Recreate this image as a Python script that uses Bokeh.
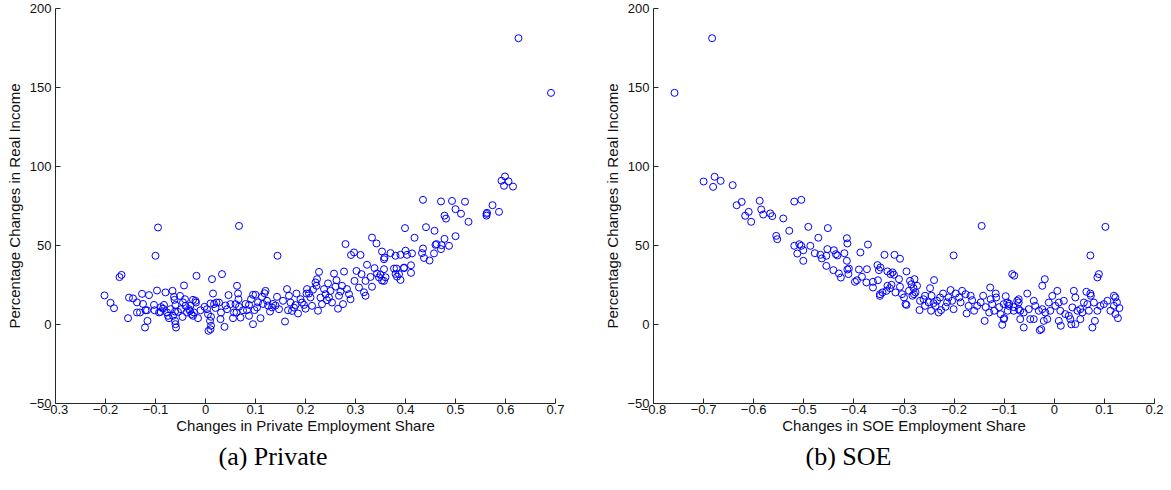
from bokeh.plotting import figure
from bokeh.layouts import row
from bokeh.models import Range1d, FixedTicker, Title
from bokeh.embed import file_html
from bokeh.resources import INLINE

# ---------------- data ----------------
private_x = [
    -0.202, -0.190, -0.183, -0.172, -0.168, -0.155, -0.153, -0.145, -0.137, -0.137,
    -0.131, -0.127, -0.125, -0.120, -0.121, -0.116, -0.113, -0.117, -0.103, -0.100,
    -0.095, -0.097, -0.102, -0.093, -0.089, -0.083, -0.080, -0.077, -0.075, -0.073,
    -0.070, -0.066, -0.063, -0.062, -0.060, -0.061, -0.061, -0.060, -0.059, -0.065,
    -0.051, -0.049, -0.046, -0.043, -0.041, -0.040, -0.037, -0.033, -0.031, -0.028,
    -0.025, -0.023, -0.025, -0.020, -0.018, -0.015, -0.019, -0.002, 0.003, 0.005,
    0.006, 0.010, 0.011, 0.009, 0.011, 0.010, 0.013, 0.015, 0.017, 0.022,
    0.027, 0.030, 0.031, 0.033, 0.038, 0.043, 0.046, 0.050, 0.055, 0.057,
    0.060, 0.063, 0.065, 0.066, 0.067, 0.067, 0.070, 0.062, 0.083, 0.087,
    0.087, 0.091, 0.095, 0.100, 0.095, 0.098, 0.103, 0.110, 0.113, 0.118,
    0.120, 0.123, 0.129, 0.133, 0.143, 0.144, 0.147,
    -0.085, -0.090, 0.080, 0.105, 0.115, 0.125, 0.135, 0.140, -0.030, -0.010,
    -0.045, -0.055, 0.020, 0.040, 0.075,
    0.159, 0.163, 0.167, 0.170, 0.173, 0.177, 0.180, 0.182, 0.190, 0.193,
    0.197, 0.202, 0.203, 0.207, 0.210, 0.213, 0.220, 0.223, 0.227, 0.222,
    0.225, 0.233, 0.237, 0.240, 0.243, 0.247, 0.250, 0.253, 0.257, 0.262,
    0.267, 0.270, 0.273, 0.280, 0.277, 0.275, 0.283, 0.287, 0.290, 0.291,
    0.297, 0.298, 0.302, 0.307, 0.310, 0.312, 0.317, 0.320, 0.320, 0.323,
    0.330, 0.333, 0.342, 0.333, 0.338, 0.343, 0.347, 0.350, 0.357, 0.358,
    0.155, 0.165, 0.185, 0.200, 0.215, 0.230, 0.260, 0.245, 0.265,
    0.626, 0.691, 0.599, 0.592, 0.606, 0.597, 0.615, 0.435, 0.471, 0.493,
    0.519, 0.500, 0.511, 0.478, 0.481, 0.526, 0.574, 0.562, 0.563, 0.562,
    0.587, 0.399, 0.441, 0.458, 0.418, 0.500, 0.478, 0.462, 0.460, 0.472,
    0.471, 0.487, 0.435, 0.433, 0.457, 0.448, 0.437, 0.353, 0.370, 0.380,
    0.390, 0.400, 0.403, 0.413, 0.357, 0.357, 0.377, 0.382, 0.397, 0.411,
    0.411, 0.380, 0.383, 0.390, 0.360, 0.353, 0.387, 0.397,
]
private_y = [
    18.4, 13.7, 10.3, 30.0, 31.4, 4.0, 17.0, 16.5, 14.0, 7.6,
    7.6, 19.4, 13.0, 9.0, -1.9, 2.3, 18.6, 9.0, 12.4, 43.5,
    61.4, 21.5, 9.0, 7.6, 11.0, 12.4, 20.3, 7.6, 5.5, 4.0,
    9.7, 21.3, 17.5, 15.6, 12.4, 8.2, 2.3, 0.2, -1.9, 5.5,
    18.1, 9.7, 4.8, 24.7, 16.0, 11.8, 7.6, 9.7, 8.6, 6.5,
    5.5, 7.6, 15.6, 15.0, 30.8, 4.0, 13.9, 11.2, 9.7, 6.5,
    -4.0, -3.0, -0.8, 2.3, 4.9, 13.3, 28.7, 19.6, 12.9, 13.9,
    13.9, 3.4, 7.6, 31.9, -1.5, 9.7, 18.6, 12.9, 4.0, 7.6,
    12.9, 24.5, 19.6, 16.0, 11.2, 62.4, 4.4, 7.6, 9.1, 12.4,
    5.5, 16.0, 18.8, 18.8, 0.2, 9.1, 10.8, 4.0, 17.5, 19.8,
    21.3, 15.0, 8.2, 10.8, 17.5, 43.5, 9.7,
    10.0, 8.0, 13.0, 14.0, 13.0, 12.0, 13.0, 12.0, 12.0, 9.0,
    14.0, 8.0, 10.5, 12.0, 9.0,
    1.9, 22.4, 18.2, 13.9, 8.6, 10.7, 12.3, 19.6, 16.0, 13.9,
    12.4, 19.6, 22.4, 19.6, 17.1, 11.8, 26.6, 28.7, 33.3, 24.5,
    8.7, 12.9, 22.4, 19.2, 15.4, 17.1, 21.3, 13.9, 32.2, 28.0,
    18.2, 20.9, 24.5, 50.9, 33.5, 12.9, 22.4, 19.2, 16.0, 44.0,
    45.6, 27.6, 33.9, 23.4, 44.0, 31.9, 20.4, 18.2, 27.6, 37.8,
    30.1, 55.0, 51.3, 23.9, 35.7, 32.3, 29.8, 31.5, 27.6, 42.4,
    15.0, 9.0, 7.0, 10.0, 22.0, 17.0, 24.0, 26.0, 10.0,
    181.2, 146.6, 93.7, 91.0, 90.6, 87.8, 87.3, 78.9, 77.9, 78.2,
    77.7, 73.0, 70.1, 68.9, 67.0, 65.0, 75.5, 70.0, 70.7, 68.9,
    71.3, 61.0, 61.6, 59.3, 54.9, 55.9, 54.2, 50.9, 50.4, 50.2,
    47.7, 49.8, 48.1, 45.2, 45.0, 40.5, 42.1, 46.2, 45.2, 43.5,
    44.1, 46.7, 44.1, 45.0, 41.3, 35.0, 35.4, 35.4, 36.0, 37.5,
    32.7, 32.0, 30.3, 28.2, 29.9, 27.8, 31.9, 35.7,
]

soe_x = [
    -0.758, -0.683, -0.700, -0.681, -0.678, -0.666, -0.642, -0.634, -0.624, -0.617,
    -0.610, -0.605, -0.588, -0.585, -0.581, -0.567, -0.563, -0.555, -0.553, -0.541,
    -0.529, -0.519, -0.505, -0.519, -0.513, -0.509, -0.505, -0.501, -0.501, -0.491,
    -0.487, -0.478, -0.471, -0.467, -0.464, -0.455, -0.455, -0.453, -0.452, -0.441,
    -0.440, -0.436, -0.433, -0.430, -0.426, -0.419, -0.414, -0.413, -0.414, -0.413,
    -0.411, -0.410, -0.398, -0.394, -0.390, -0.387, -0.384, -0.374, -0.375, -0.372,
    -0.362, -0.362, -0.353, -0.350, -0.352, -0.348, -0.348,
    -0.339, -0.319, -0.308, -0.347, -0.333, -0.327, -0.323, -0.320, -0.333, -0.328,
    -0.325, -0.335, -0.343, -0.310, -0.308, -0.295, -0.317, -0.304, -0.300, -0.297,
    -0.295, -0.288, -0.285, -0.281, -0.279, -0.280, -0.277, -0.274, -0.290, -0.283,
    -0.269, -0.261, -0.258, -0.248, -0.245, -0.240, -0.241, -0.201,
    -0.237, -0.234, -0.228, -0.226, -0.222, -0.211, -0.207, -0.204, -0.201, -0.197,
    -0.190, -0.187, -0.184, -0.177, -0.175, -0.167, -0.164, -0.171, -0.128, -0.117,
    -0.116, -0.139, -0.104, -0.097, -0.084, -0.080, -0.090, -0.081, -0.074, -0.071,
    -0.160, -0.154, -0.147, -0.137, -0.130, -0.124, -0.120, -0.110, -0.107, -0.100,
    -0.093, -0.142, -0.127,
    -0.268, -0.258, -0.251, -0.246, -0.231, -0.217, -0.214,
    0.072, 0.086, 0.089, -0.024, -0.019, -0.054, 0.006, 0.039, 0.064, 0.072,
    0.073, 0.119, 0.122, 0.125, 0.130, -0.061, -0.029, -0.026, 0.013, 0.076,
    0.081, 0.034, 0.127,
    -0.101, -0.094, -0.091, -0.081, -0.071, -0.071, -0.068, -0.061, -0.051, -0.048,
    -0.041, -0.038, -0.031, -0.024, -0.018, -0.014, -0.011, -0.008, -0.004, 0.002,
    0.009, 0.012, 0.019, 0.022, 0.029, 0.032, 0.036, 0.042, 0.046, 0.052,
    0.056, 0.059, 0.066, 0.069, 0.079, 0.086, 0.092, 0.099, 0.106, 0.112,
    0.119, 0.122, -0.068, -0.041, -0.021, 0.009, -0.101, 0.052, 0.042,
    -0.145, 0.102,
]
soe_y = [
    146.6, 181.2, 90.5, 87.1, 93.5, 90.9, 88.2, 75.5, 77.6, 68.8,
    71.3, 65.0, 78.3, 72.8, 69.6, 70.3, 68.6, 56.1, 54.0, 67.1,
    59.3, 77.8, 78.9, 49.8, 44.9, 50.8, 49.8, 47.0, 40.3, 61.8,
    49.8, 45.1, 54.9, 44.1, 41.8, 43.5, 37.1, 47.7, 61.0, 34.4,
    47.0, 44.5, 43.7, 32.3, 29.7, 45.1, 54.6, 51.3, 40.3, 34.8,
    31.9, 35.4, 27.0, 28.0, 34.8, 45.6, 30.2, 35.0, 26.6, 50.6,
    27.0, 23.4, 37.6, 34.4, 28.0, 19.2, 18.1,
    44.1, 44.1, 41.6, 36.1, 33.6, 31.9, 33.0, 31.5, 24.5, 23.0,
    25.1, 21.3, 20.3, 28.7, 23.9, 33.6, 20.3, 19.2, 17.1, 12.9,
    12.4, 27.6, 25.5, 23.0, 28.7, 19.2, 20.3, 24.5, 21.3, 18.2,
    9.1, 16.0, 18.2, 23.0, 18.2, 28.1, 13.5, 43.7,
    11.8, 15.0, 17.1, 9.1, 19.6, 17.1, 21.8, 15.0, 9.7, 19.6,
    17.1, 14.0, 21.3, 19.2, 7.0, 18.2, 15.4, 11.8, 23.4, 19.6,
    17.1, 2.3, -0.2, 17.9, 31.9, 30.9, 13.1, 11.0, 15.0, 9.7,
    8.7, 11.8, 14.0, 11.0, 7.6, 12.9, 8.7, 11.0, 6.5, 4.0,
    8.7, 18.2, 16.0,
    15.0, 11.8, 14.0, 8.7, 7.6, 11.2, 14.0,
    43.7, 29.8, 31.9, 24.5, 28.7, 19.6, 21.3, 21.3, 20.7, 19.6,
    18.2, 18.2, 17.1, 14.0, 10.4, -1.9, -3.6, -2.9, -0.8, -1.9,
    2.3, 0.1, 4.0,
    12.9, 13.9, 11.8, 8.7, 16.0, 13.9, 8.7, 7.6, 9.7, 3.4,
    15.0, 11.8, 8.7, 9.7, 7.6, 3.4, 13.9, 8.7, 18.1, 11.8,
    13.9, 8.7, 15.0, 6.6, 5.5, 3.4, 10.8, 17.1, 8.7, 9.7,
    7.6, 13.9, 12.9, 8.7, 13.9, 8.7, 11.8, 12.9, 15.0, 8.7,
    11.8, 6.6, 3.4, 3.4, 2.3, 2.3, 3.4, 3.4, 0.2,
    62.4, 61.8,
]

private_ticks = [-0.3, -0.2, -0.1, 0, 0.1, 0.2, 0.3, 0.4, 0.5, 0.6, 0.7]
private_tick_labels = ["\u22120.3", "\u22120.2", "\u22120.1", "0", "0.1", "0.2", "0.3", "0.4", "0.5", "0.6", "0.7"]
soe_ticks = [-0.8, -0.7, -0.6, -0.5, -0.4, -0.3, -0.2, -0.1, 0, 0.1, 0.2]
soe_tick_labels = ["\u22120.8", "\u22120.7", "\u22120.6", "\u22120.5", "\u22120.4", "\u22120.3", "\u22120.2", "\u22120.1", "0", "0.1", "0.2"]
y_ticks = [-50, 0, 50, 100, 150, 200]
y_tick_labels = ["\u221250", "0", "50", "100", "150", "200"]

SANS = "Liberation Sans"
SERIF = "Liberation Serif"
AXIS_COLOR = "#262626"


def make_panel(xs, ys, xr, xticks, xlabels, xtitle, caption, width, bl, br, cap_offset):
    p = figure(width=width, height=488, output_backend="svg", toolbar_location=None,
               x_range=Range1d(xr[0], xr[1]), y_range=Range1d(-50, 200),
               min_border_left=bl, min_border_right=br, min_border_top=8, min_border_bottom=85)
    p.outline_line_color = None
    p.grid.grid_line_color = None
    p.background_fill_color = "white"
    p.border_fill_color = "white"
    p.scatter(xs, ys, marker="circle", size=7, fill_color=None,
              line_color="#0000ff", line_width=1)

    for ax in (p.xaxis[0], p.yaxis[0]):
        ax.axis_line_color = AXIS_COLOR
        ax.major_tick_line_color = AXIS_COLOR
        ax.major_tick_in = 5
        ax.major_tick_out = 0
        ax.minor_tick_line_color = None
        ax.major_label_text_font = SANS
        ax.major_label_text_font_size = "13px"
        ax.major_label_text_color = "#111111"
        ax.axis_label_text_font = SANS
        ax.axis_label_text_font_style = "normal"
        ax.axis_label_text_color = "#111111"

    xa = p.xaxis[0]
    xa.ticker = FixedTicker(ticks=xticks)
    xa.major_label_overrides = {t: l for t, l in zip(xticks, xlabels)}
    xa.major_label_standoff = 1
    xa.axis_label = xtitle
    xa.axis_label_text_font_size = "15px"
    xa.axis_label_standoff = 0

    ya = p.yaxis[0]
    ya.ticker = FixedTicker(ticks=y_ticks)
    ya.major_label_overrides = {t: l for t, l in zip(y_ticks, y_tick_labels)}
    ya.major_label_standoff = 4
    ya.axis_label = "Percentage Changes in Real Income"
    ya.axis_label_text_font_size = "15px"
    ya.axis_label_standoff = 3

    p.add_layout(Title(text=caption, align="left", offset=cap_offset,
                       text_font=SERIF, text_font_size="26px",
                       text_font_style="normal", text_color="black", standoff=7), "below")
    return p


left = make_panel(private_x, private_y, (-0.3, 0.7), private_ticks, private_tick_labels,
                  "Changes in Private Employment Share", "(a) Private", 600, 55, 45, 163)
right = make_panel(soe_x, soe_y, (-0.8, 0.2), soe_ticks, soe_tick_labels,
                   "Changes in SOE Employment Share", "(b) SOE", 566, 53, 12, 152)

layout = row(left, right)
open("out.html", "w").write(file_html(layout, INLINE))
